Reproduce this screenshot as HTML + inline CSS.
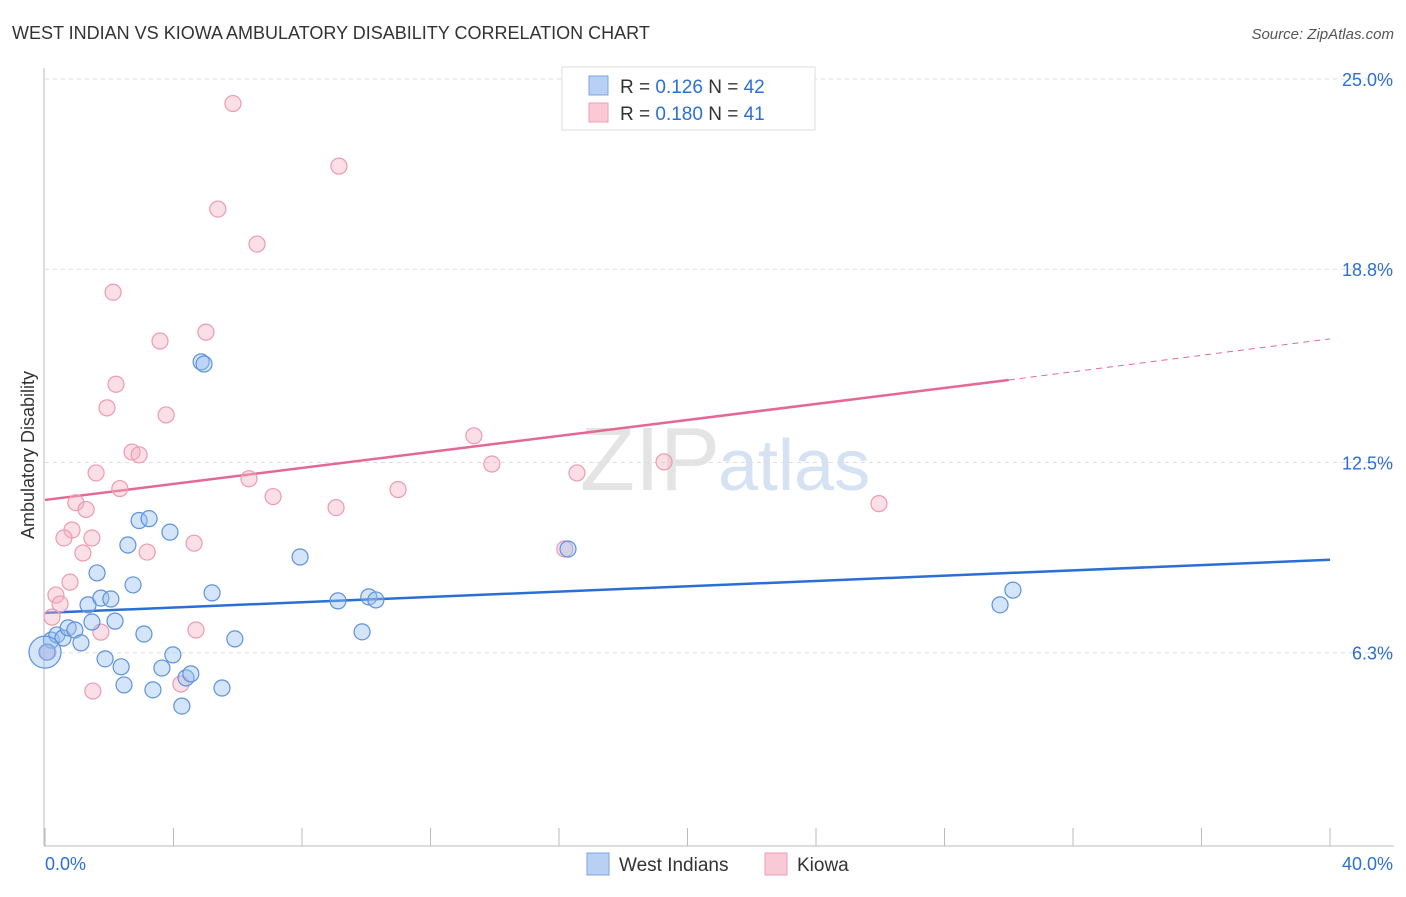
<!DOCTYPE html>
<html><head><meta charset="utf-8"><style>
body{margin:0;background:#fff;font-family:"Liberation Sans",sans-serif}
svg text{font-family:"Liberation Sans",sans-serif}
</style></head><body>
<svg id="c" width="1406" height="892">
<text x="12" y="39" font-size="18" fill="#333">WEST INDIAN VS KIOWA AMBULATORY DISABILITY CORRELATION CHART</text>
<text x="1394" y="39" font-size="15" fill="#555" text-anchor="end" font-style="italic">Source: ZipAtlas.com</text>
<text x="720" y="490" font-size="90" text-anchor="end" fill="#e4e4e4" font-family="Liberation Serif">ZIP</text>
<text x="718" y="490" font-size="72" fill="#d4e2f4">atlas</text>
<g id="grid"></g><g id="axes"></g><g id="lines"></g><g id="pts"></g>
<text transform="translate(34,455) rotate(-90)" font-size="18" fill="#333" text-anchor="middle">Ambulatory Disability</text>
<g>
<rect x="562" y="67" width="253" height="63" fill="#fff" stroke="#ddd"/>
<rect x="589" y="76" width="19" height="19" fill="#b7d0f3" stroke="#7aa6e0"/>
<rect x="589" y="103" width="19" height="19" fill="#f9c9d6" stroke="#ee9fb4"/>
<text x="620" y="93" font-size="19" fill="#333">R = <tspan fill="#2d6fd4">0.126</tspan>   N = <tspan fill="#2d6fd4">42</tspan></text>
<text x="620" y="120" font-size="19" fill="#333">R = <tspan fill="#2d6fd4">0.180</tspan>   N =  <tspan fill="#2d6fd4">41</tspan></text>
</g>
<g>
<rect x="587" y="853" width="22" height="22" fill="#b7d0f3" stroke="#7aa6e0"/>
<text x="619" y="871" font-size="19" fill="#333">West Indians</text>
<rect x="765" y="853" width="22" height="22" fill="#f9c9d6" stroke="#ee9fb4"/>
<text x="797" y="871" font-size="19" fill="#333">Kiowa</text>
</g>
</svg>
<script>
const yTicks=[6.3,12.5,18.8,25.0];
const yTickLabels=["6.3%","12.5%","18.8%","25.0%"];
const xTickLabels=["0.0%","40.0%"];
const blueX=[0.2,0.06,0.37,0.56,0.72,0.93,1.12,1.34,1.46,1.62,1.74,1.87,2.05,2.18,2.37,2.46,2.74,2.93,2.58,3.08,3.24,3.36,3.64,3.89,3.98,4.26,4.39,4.54,4.86,4.95,5.2,5.51,5.91,7.94,9.12,9.87,10.08,10.3,16.28,29.73,30.13,0.0];
const blueY=[6.71,6.32,6.88,6.78,7.11,7.04,6.62,7.86,7.3,8.9,8.08,6.1,8.05,7.33,5.84,5.25,8.51,10.61,9.81,6.91,10.67,5.09,5.8,10.23,6.23,4.56,5.48,5.61,15.78,15.71,8.25,5.15,6.75,9.42,7.99,6.98,8.12,8.02,9.68,7.86,8.34,6.32];
const pinkX=[5.85,9.15,5.38,6.6,2.12,5.01,3.58,2.21,1.93,3.77,2.71,2.93,1.59,13.35,13.91,19.27,16.56,6.35,2.33,7.1,10.99,0.96,1.28,9.06,25.96,0.84,0.59,1.46,1.18,3.18,4.64,16.18,0.78,0.34,0.47,0.22,1.74,4.7,1.49,4.23,0.09];
const pinkY=[24.2,22.16,20.76,19.62,18.05,16.75,16.46,15.05,14.28,14.05,12.84,12.75,12.16,13.37,12.45,12.52,12.16,11.97,11.65,11.39,11.62,11.19,10.97,11.03,11.16,10.3,10.04,10.04,9.55,9.58,9.87,9.68,8.6,8.18,7.89,7.46,6.97,7.04,5.05,5.28,6.32];
const blueLine=[[0,7.6],[40,9.33]];
const pinkLine=[[0,11.28],[30,15.19],[40,16.53]];
const NS="http://www.w3.org/2000/svg";
const xs=v=>45+v/40*1285, ys=v=>846-v*30.68;
function mk(t,a,p){const e=document.createElementNS(NS,t);for(const k in a)e.setAttribute(k,a[k]);document.getElementById(p).appendChild(e);return e;}
yTicks.forEach((t,i)=>{
 const l=mk('line',{x1:45,x2:1394,y1:ys(t),y2:ys(t),stroke:'#ddd','stroke-dasharray':'4,4'},'grid');
 
 
 const tx=mk('text',{x:1393,y:ys(t)+7,'font-size':18,fill:'#2d6fd4','text-anchor':'end'},'axes');tx.textContent=yTickLabels[i];
 
 
});
mk('line',{x1:45,x2:1394,y1:79,y2:79,stroke:'#ddd','stroke-dasharray':'4,4'},'grid');
mk('line',{x1:44,x2:44,y1:68,y2:846,stroke:'#bbb'},'axes');
mk('line',{x1:44,x2:1394,y1:846,y2:846,stroke:'#bbb'},'axes');
for(let i=0;i<=10;i++){mk('line',{x1:xs(i*4),x2:xs(i*4),y1:828,y2:846,stroke:'#bbb'},'axes');}
[[0,'start',45],[1,'end',1393]].forEach(([i,a,x])=>{const t=mk('text',{x:x,y:870,'font-size':18,fill:'#2d6fd4','text-anchor':a},'axes');t.textContent=xTickLabels[i];
 
 });
let bl=mk('line',{x1:xs(blueLine[0][0]),y1:ys(blueLine[0][1]),x2:xs(blueLine[1][0]),y2:ys(blueLine[1][1]),stroke:'#2a6fd6','stroke-width':2.5},'lines');


let pl=mk('line',{x1:xs(pinkLine[0][0]),y1:ys(pinkLine[0][1]),x2:xs(pinkLine[1][0]),y2:ys(pinkLine[1][1]),stroke:'#e46892','stroke-width':2.5},'lines');


let pd=mk('line',{x1:xs(pinkLine[1][0]),y1:ys(pinkLine[1][1]),x2:xs(pinkLine[2][0]),y2:ys(pinkLine[2][1]),stroke:'#e46892','stroke-width':1,'stroke-dasharray':'6,5'},'lines');


pinkX.forEach((x,i)=>{const c=mk('circle',{cx:xs(x),cy:ys(pinkY[i]),r:8,fill:'rgba(246,176,196,0.4)',stroke:'#ec9ab2','stroke-width':1.2},'pts');
 
 });
blueX.forEach((x,i)=>{const c=mk('circle',{cx:xs(x),cy:ys(blueY[i]),r:i==blueX.length-1?16:8,fill:'rgba(150,190,240,0.4)',stroke:'#5c92dc','stroke-width':1.2},'pts');
 
 });
</script>
</body></html>
